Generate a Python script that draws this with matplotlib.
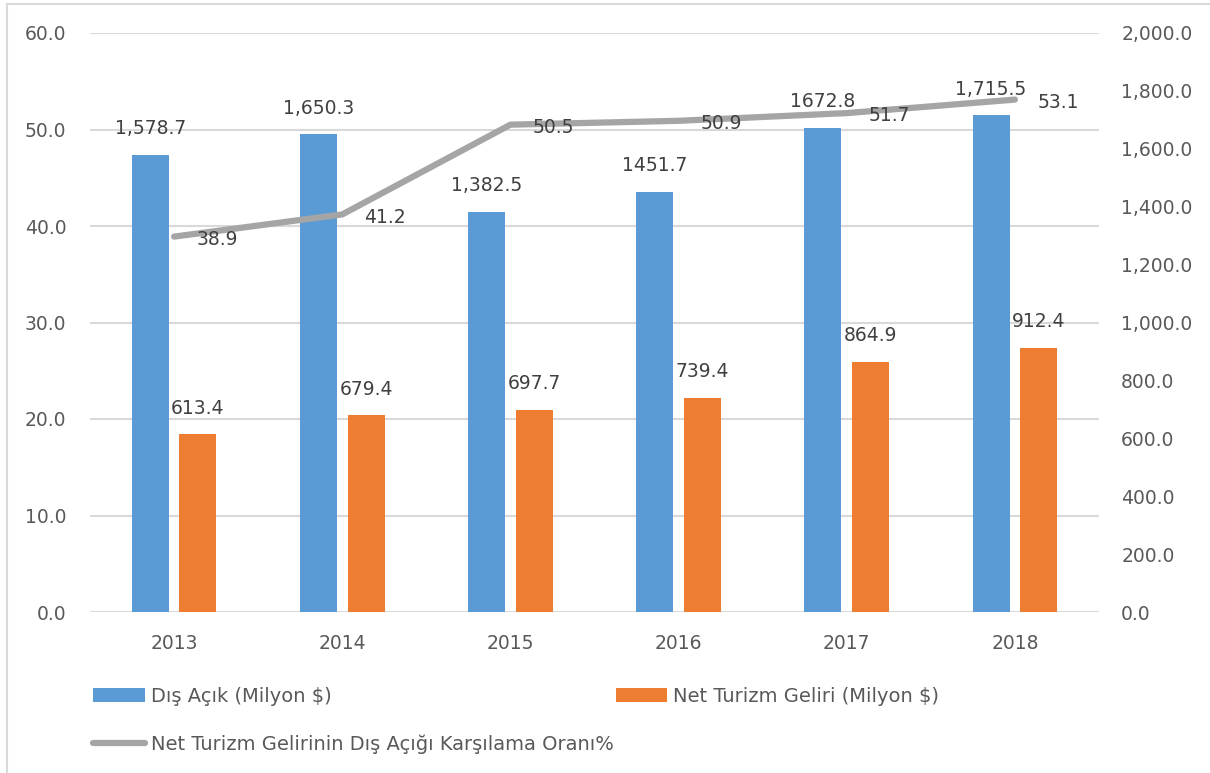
import matplotlib
matplotlib.use("Agg")
import matplotlib.pyplot as plt
from matplotlib.lines import Line2D
import numpy as np

years = ["2013", "2014", "2015", "2016", "2017", "2018"]
dis_acik = [1578.7, 1650.3, 1382.5, 1451.7, 1672.8, 1715.5]
dis_acik_labels = ["1,578.7", "1,650.3", "1,382.5", "1451.7", "1672.8", "1,715.5"]
turizm = [613.4, 679.4, 697.7, 739.4, 864.9, 912.4]
oran = [38.9, 41.2, 50.5, 50.9, 51.7, 53.1]

BLUE = "#5B9BD5"
ORANGE = "#ED7D31"
GRAY = "#A5A5A5"
TICK = "#595959"
LABEL = "#404040"
FS = 13.5

plt.rcParams["font.family"] = ["DejaVu Sans"]

fig = plt.figure(figsize=(12.1, 7.73), dpi=100)
ax = fig.add_axes([90 / 1210, 1 - 612 / 773, 1009 / 1210, 579 / 773])
ax2 = ax.twinx()
ax3 = ax.twinx()

x = np.arange(len(years))
w = 0.22
off = 0.142

# left axis: grid + 0..60 labels
ax.set_ylim(0, 60)
ax.set_yticks(np.arange(0, 61, 10))
ax.set_yticklabels([f"{v:.1f}" for v in np.arange(0, 61, 10)])
ax.grid(axis="y", color="#D9D9D9", lw=1.5)
ax.set_xlim(-0.5, len(years) - 0.5)
ax.set_xticks(x)
ax.set_xticklabels(years)
ax.tick_params(axis="both", length=0, labelsize=FS, labelcolor=TICK)
ax.tick_params(axis="y", pad=17)
ax.tick_params(axis="x", pad=16)
for s in ax.spines.values():
    s.set_visible(False)

# right axis: bars
b1 = ax2.bar(x - off, dis_acik, w, color=BLUE, label="Dış Açık (Milyon $)")
b2 = ax2.bar(x + off, turizm, w, color=ORANGE, label="Net Turizm Geliri (Milyon $)")
ax2.set_ylim(0, 2000)
ax2.set_yticks(np.arange(0, 2001, 200))
ax2.set_yticklabels([f"{v:,.1f}" for v in np.arange(0, 2001, 200)])
ax2.tick_params(axis="y", length=0, labelsize=FS, labelcolor=TICK, pad=16)
for s in ax2.spines.values():
    s.set_visible(False)
for xi, v, t in zip(x, dis_acik, dis_acik_labels):
    ax2.annotate(t, (xi - off, v), xytext=(0, 12), textcoords="offset points",
                 ha="center", va="bottom", fontsize=FS, color=LABEL)
for xi, v in zip(x, turizm):
    ax2.annotate(f"{v:.1f}", (xi + off, v), xytext=(0, 12), textcoords="offset points",
                 ha="center", va="bottom", fontsize=FS, color=LABEL)

# line on top
ln, = ax3.plot(x, oran, color=GRAY, lw=4.5, solid_capstyle="round",
               label="Net Turizm Gelirinin Dış Açığı Karşılama Oranı%")
ax3.set_ylim(0, 60)
ax3.set_yticks([])
for s in ax3.spines.values():
    s.set_visible(False)
for xi, v in zip(x, oran):
    ax3.annotate(f"{v:.1f}", (xi, v), xytext=(16, -2), textcoords="offset points",
                 ha="left", va="center", fontsize=FS, color=LABEL)

leg = fig.legend([b1, ln, b2], [b1.get_label(), ln.get_label(), b2.get_label()],
                 ncol=2, loc="upper left", bbox_to_anchor=(93 / 1210, 1 - 687 / 773),
                 frameon=False, fontsize=14, handlelength=2.67, handleheight=0.75,
                 handletextpad=0.3, columnspacing=0.1, labelspacing=1.45,
                 borderaxespad=0, borderpad=0)
for t in leg.get_texts():
    t.set_color(TICK)

# outer frame
fig.add_artist(Line2D([7 / 1210, 7 / 1210], [0, 1 - 4 / 773], transform=fig.transFigure,
                      color="#D9D9D9", lw=1.5))
fig.add_artist(Line2D([7 / 1210, 1], [1 - 4 / 773, 1 - 4 / 773], transform=fig.transFigure,
                      color="#D9D9D9", lw=1.5))

fig.savefig("out.png", dpi=100)
